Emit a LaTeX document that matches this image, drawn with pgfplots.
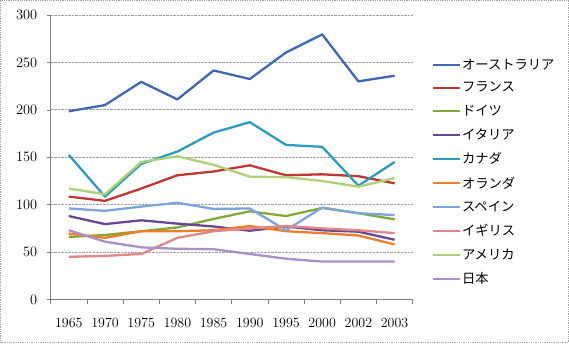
\documentclass[border=0pt]{standalone}
\usepackage{pgfplots}
\pgfplotsset{compat=1.18}
\usepackage{fontspec}
\newfontfamily\jpfont{Noto Sans CJK JP}
\definecolor{cAus}{RGB}{62,105,178}
\definecolor{cFra}{RGB}{190,55,50}
\definecolor{cGer}{RGB}{128,168,58}
\definecolor{cIta}{RGB}{104,70,145}
\definecolor{cCan}{RGB}{45,155,190}
\definecolor{cNed}{RGB}{240,125,40}
\definecolor{cSpa}{RGB}{125,165,220}
\definecolor{cUK}{RGB}{225,135,135}
\definecolor{cUSA}{RGB}{175,208,120}
\definecolor{cJap}{RGB}{170,145,200}
\begin{document}
\begin{tikzpicture}[x=1pt,y=1pt]
\useasboundingbox (0,0) rectangle (569,343);
\draw[gray!70, densely dotted, line width=0.8pt] (0.5,0.5) rectangle (568.5,342.5);
\begin{axis}[
  at={(50.7pt,43.5pt)}, anchor=south west,
  scale only axis, width=362pt, height=284.5pt,
  xmin=-0.5, xmax=9.5, ymin=0, ymax=300,
  xtick={0,...,9},
  xticklabels={1965,1970,1975,1980,1985,1990,1995,2000,2002,2003},
  minor xtick={-0.5,0.5,...,9.5},
  major x tick style={draw=none},
  minor x tick style={gray, line width=0.5pt},
  ytick={0,50,...,300},
  axis x line*=bottom, axis y line*=left,
  axis line style={gray, line width=0.6pt, -},
  tick align=outside,
  major tick length=4pt, minor tick length=4pt,
  ytick style={gray, line width=0.5pt},
  ymajorgrids,
  major grid style={gray!75, densely dotted, line width=0.7pt},
  tick label style={font=\fontsize{14}{16}\selectfont},
  xticklabel style={yshift=-11pt},
  yticklabel style={xshift=-6pt},
  every axis plot/.append style={line width=2.3pt, mark=none, line join=round},
  legend style={at={(rel axis cs:1.053,0.851)}, anchor=north west, draw=none, fill=none,
    font=\jpfont\fontsize{13.3}{15}\selectfont, row sep=9.57pt, inner sep=0pt,
    nodes={inner sep=1pt, anchor=west}},
  legend cell align=left,
  legend image code/.code={\draw[#1, line width=2pt] (0pt,0pt) -- (27pt,0pt);},
  clip=false,
]
\addplot[cAus] coordinates {(0,198.5)(1,205)(2,229.5)(3,211)(4,241.5)(5,232.5)(6,260.5)(7,279.5)(8,230)(9,236)};
\addlegendentry{オーストラリア}
\addplot[cFra] coordinates {(0,108.5)(1,104)(2,117)(3,131)(4,135)(5,141.5)(6,131)(7,132)(8,130)(9,122.5)};
\addlegendentry{フランス}
\addplot[cGer] coordinates {(0,66)(1,68)(2,72)(3,76)(4,85)(5,93)(6,88)(7,96.5)(8,91)(9,84.5)};
\addlegendentry{ドイツ}
\addplot[cIta] coordinates {(0,88)(1,79.5)(2,83.5)(3,80)(4,77)(5,72.5)(6,77)(7,73)(8,71.5)(9,63)};
\addlegendentry{イタリア}
\addplot[cCan] coordinates {(0,152.5)(1,108.5)(2,143)(3,156)(4,176)(5,187)(6,163)(7,161)(8,120)(9,145)};
\addlegendentry{カナダ}
\addplot[cNed] coordinates {(0,69.5)(1,65)(2,72)(3,72)(4,73)(5,77.5)(6,72)(7,70)(8,67.5)(9,58)};
\addlegendentry{オランダ}
\addplot[cSpa] coordinates {(0,96)(1,93.5)(2,98)(3,102)(4,95.5)(5,96)(6,73)(7,97)(8,91)(9,89)};
\addlegendentry{スペイン}
\addplot[cUK] coordinates {(0,45)(1,46)(2,48)(3,65)(4,72)(5,75)(6,77.5)(7,75)(8,73)(9,70)};
\addlegendentry{イギリス}
\addplot[cUSA] coordinates {(0,117)(1,111)(2,145)(3,151)(4,142)(5,129.5)(6,129)(7,125)(8,119)(9,128)};
\addlegendentry{アメリカ}
\addplot[cJap] coordinates {(0,73)(1,61)(2,55)(3,53.5)(4,53)(5,48)(6,43)(7,40)(8,40)(9,40)};
\addlegendentry{日本}
\end{axis}
\end{tikzpicture}
\end{document}
